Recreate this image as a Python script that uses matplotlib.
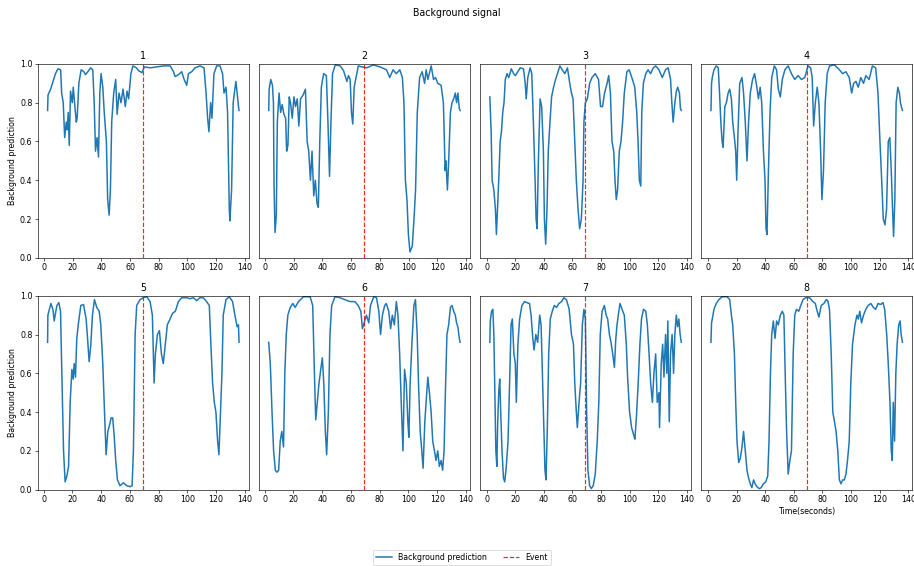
import matplotlib
matplotlib.use('Agg')
import matplotlib.pyplot as plt

# values, one pair of lists per panel
t1 = [2.5, 2.8, 4.6, 8, 9.7, 11.6, 12.3, 13.4, 14.4, 15.5, 16.2, 16.9, 17.6, 18.5, 19.7, 20.4, 21.3, 22.5, 23.1, 24.3,
      25.9, 27.8, 28.9, 30.6, 32.4, 34, 35, 35.9, 37, 38, 38.9, 39.8, 41, 42, 43.5, 44.4, 45.4, 46.3, 47.2, 48.6,
      50, 51, 52.3, 53.7, 55.1, 56.7, 57.9, 59, 60.6, 62, 64.4, 66, 68.3, 70, 74, 78.7, 83.3, 88, 90.3, 91.4,
      93.8, 96, 97.7, 99.5, 100.7, 103, 105.3, 108.8, 111.6, 113, 114.1, 115, 116.2, 117.1, 118.5, 120.4, 122.7,
      124.5, 125.5, 126.9, 128, 129.2, 129.6, 130.8, 131.9, 133.1, 133.8, 134.7, 135.6, 136]
p1 = [0.76, 0.84, 0.87, 0.95, 0.975, 0.97, 0.85, 0.80, 0.62, 0.70, 0.66, 0.75, 0.58, 0.86, 0.80, 0.88, 0.80, 0.70, 0.72, 0.90,
      0.97, 0.96, 0.945, 0.96, 0.98, 0.97, 0.80, 0.55, 0.62, 0.52, 0.85, 0.95, 0.88, 0.75, 0.60, 0.30, 0.22, 0.35, 0.70, 0.85,
      0.92, 0.74, 0.85, 0.80, 0.87, 0.78, 0.86, 0.82, 0.95, 0.99, 0.98, 0.965, 0.955, 0.985, 0.98, 0.985, 0.99, 0.99, 0.96, 0.935,
      0.945, 0.96, 0.92, 0.89, 0.95, 0.96, 0.98, 0.99, 0.98, 0.85, 0.72, 0.65, 0.80, 0.72, 0.95, 0.99, 0.99,
      0.95, 0.85, 0.88, 0.75, 0.25, 0.19, 0.35, 0.80, 0.87, 0.91, 0.85, 0.78, 0.76]

t2 = [2.5, 2.8, 3.9, 5.1, 5.8, 6.2, 6.9, 7.8, 8.5, 9.7, 10.8, 11.9, 13.1, 14.3, 15, 15.9, 16.8, 17.7, 18.9, 20.1,
      21.2, 22.4, 23.5, 24.7, 26.5, 28.1, 29.3, 30.4, 31.6, 32.7, 33.9, 35, 36.2, 37.1, 38.1, 39.2, 40.8, 42.7, 43.8, 44.9,
      45.9, 47, 48.9, 52.4, 54.7, 57, 58.1, 59.3, 60.2, 61.1, 62.1, 63.4, 65, 67.4, 70.8, 75.4, 80, 84.6, 86.9, 89.2,
      91.5, 93.9, 95.7, 96.8, 97.8, 98.9, 99.9, 101, 102.6, 103.8, 104.9, 106.1, 107.7, 109.5, 111.2, 112.3, 113.5,
      115.8, 117.4, 118.8, 120.4, 122.7, 124.3, 125.5, 126.1, 127.1, 128, 129.2, 130.3, 131.5, 132.6, 133.5, 134.4, 135.4, 136]
p2 = [0.76, 0.87, 0.92, 0.89, 0.80, 0.38, 0.13, 0.22, 0.70, 0.85, 0.75, 0.79, 0.74, 0.72, 0.55, 0.58, 0.83, 0.80, 0.72, 0.83,
      0.78, 0.82, 0.68, 0.82, 0.84, 0.87, 0.60, 0.55, 0.40, 0.55, 0.32, 0.40, 0.28, 0.26, 0.60, 0.88, 0.95, 0.94, 0.70, 0.42,
      0.70, 0.95, 0.995, 0.99, 0.965, 0.91, 0.94, 0.92, 0.75, 0.69, 0.88, 0.93, 0.99, 0.985, 0.98, 0.995, 0.985, 0.97, 0.93, 0.97,
      0.95, 0.97, 0.93, 0.80, 0.40, 0.30, 0.12, 0.03, 0.06, 0.20, 0.35, 0.75, 0.93, 0.96, 0.90, 0.97, 0.92,
      0.99, 0.92, 0.93, 0.90, 0.89, 0.80, 0.45, 0.50, 0.35, 0.50, 0.75, 0.80, 0.82, 0.85, 0.80, 0.85, 0.77, 0.76]

t3 = [2.3, 3.2, 3.9, 5.1, 6.2, 6.9, 7.8, 8.5, 9.5, 10.4, 11.3, 12.2, 13.1, 14.3, 15.5, 17.3, 18.9, 20.1, 21.9, 23.5,
      25.8, 27, 27.7, 28.8, 30.4, 31.6, 32.7, 33.9, 34.6, 35.3, 36.2, 37.4, 38.5, 39.7, 40.4, 41.3, 42.2, 43.1, 44.3, 45.4,
      46.8, 48.2, 49.5, 51.2, 52.8, 54.7, 56.5, 58.1, 59.3, 60.4, 61.6, 62.7, 63.9, 65, 66.2, 67.4, 68, 69, 70.4, 72,
      73.6, 75.9, 78.2, 79.6, 81, 82.4, 84.2, 85.3, 86.5, 87.6, 88.8, 89.7, 90.6, 91.5, 92.7, 93.9, 95, 96.2, 98, 99.6,
      101.9, 103.5, 104.9, 105.8, 106.7, 107.7, 108.4, 109.5, 111.2, 112.8, 114.6, 116.4, 118.1, 120.4, 122.7, 125,
      126.8, 128.5, 129.4, 130.3, 131.5, 132.6, 133.5, 134.7, 135.4, 136]
p3 = [0.83, 0.65, 0.40, 0.35, 0.25, 0.12, 0.28, 0.40, 0.60, 0.65, 0.75, 0.80, 0.92, 0.95, 0.93, 0.975, 0.95, 0.94, 0.96, 0.98,
      0.975, 0.90, 0.82, 0.93, 0.98, 0.95, 0.70, 0.40, 0.20, 0.15, 0.50, 0.82, 0.78, 0.55, 0.20, 0.07, 0.25, 0.55, 0.70, 0.83,
      0.88, 0.92, 0.95, 0.99, 0.97, 0.95, 0.98, 0.90, 0.85, 0.82, 0.60, 0.40, 0.25, 0.15, 0.20, 0.40, 0.70, 0.80, 0.82, 0.90,
      0.93, 0.95, 0.92, 0.78, 0.78, 0.85, 0.90, 0.94, 0.85, 0.60, 0.55, 0.40, 0.30, 0.35, 0.55, 0.60, 0.70, 0.85, 0.96, 0.97,
      0.92, 0.88, 0.75, 0.60, 0.40, 0.37, 0.75, 0.90, 0.95, 0.97, 0.95, 0.98, 0.99, 0.97, 0.93, 0.97,
      0.98, 0.92, 0.80, 0.70, 0.80, 0.86, 0.88, 0.85, 0.77, 0.76]

t4 = [2.1, 2.5, 3, 4.2, 5.8, 7.2, 8.1, 9, 9.9, 10.6, 11.8, 12.9, 14.1, 15.2, 16.4, 17.3, 18.5, 19.4, 20.1, 21,
      22.2, 23.8, 24.9, 26.1, 27.3, 28.4, 29.6, 31.2, 32.6, 34.2, 35.3, 36.5, 37.6, 38.8, 39.9, 40.6, 41.3, 42.3, 43.4, 44.6,
      46.4, 48, 49.2, 50.6, 52, 53.8, 56.1, 58.4, 60.7, 63, 65.4, 67.7, 70, 71.8, 72.9, 73.9, 75.1, 76.4, 77.6, 78.8,
      79.7, 80.8, 82, 83.4, 85, 88.5, 91.9, 94.2, 96.5, 98.8, 100.5, 101.9, 103.5, 105.1, 106.9, 108.8, 110.4, 112.7,
      115, 117.3, 118.9, 120.3, 121.5, 122.6, 123.8, 124.9, 126.1, 127.2, 128.2, 129.1, 129.8, 130.7, 131.6, 132.8,
      133.9, 134.6, 136]
p4 = [0.76, 0.90, 0.93, 0.97, 0.99, 0.98, 0.85, 0.70, 0.60, 0.57, 0.78, 0.80, 0.85, 0.87, 0.82, 0.70, 0.62, 0.55, 0.40, 0.65,
      0.90, 0.93, 0.85, 0.70, 0.50, 0.70, 0.85, 0.92, 0.95, 0.88, 0.82, 0.88, 0.80, 0.55, 0.40, 0.15, 0.12, 0.45, 0.75, 0.93,
      0.99, 0.97, 0.87, 0.83, 0.92, 0.97, 0.99, 0.95, 0.92, 0.94, 0.92, 0.93, 0.99, 0.98, 0.93, 0.68, 0.80, 0.88, 0.80, 0.55,
      0.30, 0.45, 0.80, 0.95, 0.99, 0.995, 0.97, 0.95, 0.96, 0.93, 0.85, 0.90, 0.91, 0.88, 0.93, 0.90, 0.94, 0.92,
      0.99, 0.98, 0.85, 0.60, 0.40, 0.20, 0.17, 0.25, 0.60, 0.62, 0.45, 0.25, 0.11, 0.30, 0.80, 0.88,
      0.85, 0.80, 0.76]

t5 = [2.8, 3.0, 3.7, 5.1, 6.5, 7.4, 8.3, 9.3, 10.6, 11.8, 12.7, 13.9, 15, 16.2, 17.4, 18.5, 19.7, 20.6, 21.3, 22.2,
      23.1, 24.3, 25.9, 27.8, 29.6, 30.6, 31.7, 32.9, 34, 35.4, 37, 38.7, 39.8, 41.2, 42.4, 43.5, 44.7, 45.8, 47, 48.1,
      49.1, 50.2, 51.4, 53.2, 55.6, 57.9, 60.2, 61.6, 62.5, 63.7, 64.8, 67.1, 69.4, 71.8, 74.1, 75.7, 76.9, 77.8, 79.2, 80.6,
      82, 83.3, 84.7, 86.1, 88, 89.8, 91.7, 93.8, 96.1, 99.5, 101.9, 104.2, 106.5, 108.8, 111.1, 113.4, 115.3, 116.4,
      117.6, 118.8, 119.9, 121.1, 122, 123.1, 124.1, 125, 126.9, 129.2, 131.5, 133.1, 134.7, 135.6, 136]
p5 = [0.76, 0.90, 0.92, 0.96, 0.93, 0.87, 0.91, 0.95, 0.965, 0.92, 0.60, 0.20, 0.04, 0.07, 0.12, 0.45, 0.62, 0.57, 0.65, 0.58,
      0.78, 0.86, 0.95, 0.955, 0.88, 0.78, 0.66, 0.75, 0.90, 0.98, 0.94, 0.92, 0.85, 0.65, 0.40, 0.18, 0.30, 0.33, 0.37, 0.37,
      0.28, 0.15, 0.05, 0.02, 0.035, 0.02, 0.015, 0.02, 0.20, 0.80, 0.95, 0.98, 0.99, 0.995, 0.97, 0.90, 0.55, 0.70, 0.80, 0.82,
      0.70, 0.65, 0.75, 0.85, 0.88, 0.91, 0.92, 0.97, 0.99, 0.99, 0.985, 0.99, 0.975, 0.99, 0.99, 0.97, 0.95, 0.75,
      0.55, 0.45, 0.40, 0.25, 0.18, 0.40, 0.60, 0.90, 0.98, 0.995, 0.97, 0.90, 0.84, 0.85, 0.76]

t6 = [2.8, 3.9, 5.1, 6.2, 7.4, 8.5, 9.7, 10.8, 11.9, 13.1, 14, 15, 16.1, 17.8, 19.6, 21.2, 23.5, 27, 31.6, 33.4,
      34.6, 35.5, 36.6, 37.8, 39, 40.1, 41.1, 42.2, 43.1, 44.3, 45.4, 46.6, 48.9, 52.4, 55.8, 59.3, 62.7, 65, 66.9, 68,
      69.2, 70.8, 72.4, 73.6, 75.9, 77.8, 79.4, 80.6, 81.9, 83.5, 84.6, 86.3, 87.6, 88.8, 90.2, 91.6, 92.7, 93.9, 95, 96.2,
      97.3, 98.5, 99.6, 100.3, 101.2, 102.4, 103.8, 104.9, 106.1, 107, 108.2, 109.3, 110.2, 111.4, 112.3, 113.5, 114.6,
      115.8, 116.9, 118.1, 119.2, 120.4, 121.5, 122.7, 123.8, 124.8, 125.7, 126.8, 128, 129.2, 130.3, 131.5, 132.6,
      133.5, 134.4, 135.4, 136]
p6 = [0.76, 0.65, 0.40, 0.20, 0.10, 0.09, 0.10, 0.25, 0.30, 0.22, 0.60, 0.80, 0.90, 0.94, 0.96, 0.94, 0.97, 0.995, 0.995, 0.95,
      0.60, 0.36, 0.45, 0.55, 0.62, 0.68, 0.55, 0.30, 0.18, 0.40, 0.80, 0.95, 0.995, 0.99, 0.98, 0.97, 0.97, 0.95, 0.92, 0.83,
      0.86, 0.90, 0.86, 0.95, 0.995, 0.99, 0.92, 0.80, 0.90, 0.95, 0.96, 0.92, 0.83, 0.90, 0.85, 0.97, 0.90, 0.70, 0.45, 0.20,
      0.62, 0.55, 0.35, 0.27, 0.55, 0.75, 0.95, 0.98, 0.80, 0.55, 0.30, 0.20, 0.11, 0.35, 0.45, 0.58, 0.50,
      0.40, 0.25, 0.20, 0.15, 0.20, 0.12, 0.15, 0.10, 0.20, 0.50, 0.80, 0.85, 0.94, 0.95, 0.92, 0.90,
      0.86, 0.84, 0.78, 0.76]

t7 = [2.3, 2.6, 3.5, 4.4, 5.1, 5.8, 6.5, 7.2, 7.8, 8.5, 9.2, 9.9, 10.8, 11.8, 12.7, 13.8, 15, 16.1, 17.1, 18,
      19.1, 20.1, 20.8, 21.9, 23.1, 24.7, 26.5, 28.1, 30, 31.1, 32.3, 33.2, 34.4, 35.7, 37.1, 38.1, 39, 39.9, 40.8, 41.5,
      42.4, 43.4, 44.5, 45.9, 47.3, 48.9, 50.5, 52.4, 54, 55.8, 57.7, 59.3, 60.7, 61.6, 62.7, 63.4, 64.6, 65.7, 66.9, 68,
      69, 69.9, 70.8, 72, 73.1, 74.5, 75.9, 77.3, 78.4, 79.4, 80.7, 82.3, 83.5, 84.6, 85.8, 86.9, 88.1, 89.3, 90.2, 91.1,
      92, 93.2, 94.6, 96.2, 97.6, 98.5, 99.9, 101.3, 102.8, 103.6, 104.7, 105.9, 107.1, 108.2, 109.6, 111.2, 112.3,
      113.5, 114.6, 115.8, 116.9, 118.1, 119.2, 120.4, 120.8, 122, 123, 123.9, 125, 125.9, 126.6, 127.6, 128.5, 129.6,
      130.6, 131.5, 132.5, 133.4, 134.3, 135.2, 136]
p7 = [0.76, 0.87, 0.92, 0.93, 0.80, 0.50, 0.20, 0.12, 0.35, 0.50, 0.57, 0.40, 0.20, 0.06, 0.04, 0.12, 0.25, 0.55, 0.85, 0.88,
      0.70, 0.65, 0.45, 0.75, 0.88, 0.95, 0.97, 0.965, 0.96, 0.90, 0.78, 0.72, 0.80, 0.76, 0.90, 0.85, 0.60, 0.35, 0.10, 0.05,
      0.30, 0.70, 0.88, 0.92, 0.95, 0.94, 0.96, 0.97, 0.99, 0.98, 0.93, 0.80, 0.75, 0.55, 0.40, 0.32, 0.45, 0.55, 0.85, 0.93,
      0.88, 0.40, 0.10, 0.02, 0.005, 0.02, 0.08, 0.25, 0.45, 0.80, 0.92, 0.95, 0.90, 0.88, 0.80, 0.76, 0.70, 0.63, 0.77, 0.85,
      0.90, 0.96, 0.93, 0.90, 0.75, 0.58, 0.40, 0.32, 0.28, 0.26, 0.38, 0.55, 0.75, 0.88, 0.93, 0.92, 0.85,
      0.70, 0.55, 0.45, 0.60, 0.70, 0.45, 0.50, 0.32, 0.65, 0.75, 0.58, 0.80, 0.60, 0.87, 0.35, 0.70, 0.80,
      0.60, 0.80, 0.90, 0.84, 0.88, 0.80, 0.76]

t8 = [2.1, 2.5, 3, 4.2, 5.8, 7.6, 9.9, 13.4, 15.2, 16.4, 17.3, 18.5, 19.4, 20.3, 21.5, 22.6, 23.8, 24.9, 26.1, 27.3,
      28.4, 29.6, 30.7, 31.9, 33, 34.2, 35.8, 37.2, 38.8, 40.4, 41.8, 42.7, 43.7, 44.6, 45.7, 46.9, 48, 49.2, 50.6, 52,
      53.1, 54, 55, 56.1, 57.3, 58.4, 59.6, 60.7, 61.9, 63.5, 64.9, 66.5, 68.4, 71.1, 73.4, 75.1, 76.4, 77.6, 79.2, 81.1,
      82.7, 83.8, 85, 86.2, 87.3, 88.5, 89.6, 90.8, 91.9, 93.1, 94.2, 95.4, 96.5, 97.6, 98.8, 99.9, 101.1, 102.8, 104.2,
      105.1, 106.2, 107.4, 108.8, 110.4, 112, 113.9, 115.7, 117.3, 118.9, 120.8, 122.4, 123.6, 125, 126.1, 127.3, 128.2,
      128.9, 129.6, 130.5, 131.4, 132.3, 133.4, 134.4, 135.1, 136]
p8 = [0.76, 0.86, 0.88, 0.93, 0.96, 0.98, 0.995, 0.995, 0.98, 0.90, 0.85, 0.70, 0.45, 0.25, 0.14, 0.16, 0.22, 0.30, 0.20, 0.10,
      0.06, 0.03, 0.01, 0.05, 0.03, 0.015, 0.005, 0.01, 0.03, 0.04, 0.07, 0.25, 0.60, 0.80, 0.87, 0.78, 0.87, 0.85, 0.90, 0.92,
      0.90, 0.60, 0.30, 0.08, 0.15, 0.20, 0.70, 0.90, 0.93, 0.92, 0.95, 0.98, 0.99, 0.99, 0.97, 0.96, 0.92, 0.89, 0.95, 0.96,
      0.98, 0.975, 0.93, 0.70, 0.40, 0.35, 0.30, 0.20, 0.05, 0.03, 0.05, 0.05, 0.08, 0.15, 0.25, 0.55, 0.75, 0.85, 0.90,
      0.88, 0.92, 0.86, 0.90, 0.93, 0.95, 0.96, 0.94, 0.93, 0.96, 0.955, 0.965, 0.93, 0.80, 0.65, 0.45, 0.20,
      0.15, 0.45, 0.25, 0.60, 0.75, 0.85, 0.87, 0.80, 0.76]

times = [t1, t2, t3, t4, t5, t6, t7, t8]
preds = [p1, p2, p3, p4, p5, p6, p7, p8]
event_time = 69

fig, axes = plt.subplots(2, 4, sharey=True, figsize=(16, 566 / 57.125), dpi=57.125)
fig.subplots_adjust(left=0.0416, right=0.9978, top=0.887, bottom=0.135, wspace=0.05, hspace=0.196)

for i, ax in enumerate(axes.flat):
    ax.plot(times[i], preds[i], color='C0', lw=1.9, label='Background prediction')
    ax.axvline(event_time, color='r', linestyle='--', alpha=0.85, label='Event')
    ax.set_title(str(i + 1))
    ax.set_ylim(0, 1)
    ax.set_xticks(range(0, 141, 20))
    if i % 4:
        # no y ticks except in the first column
        ax.tick_params(axis='y', left=False)

axes[0, 0].set_ylabel('Background prediction')
axes[1, 0].set_ylabel('Background prediction')
axes[1, 3].set_xlabel('Time(seconds)')

handles, labels = axes[0, 0].get_legend_handles_labels()
fig.legend(handles, labels, loc='lower center', ncol=2, bbox_to_anchor=(0.505, -0.005))
fig.suptitle('Background signal', y=0.985)

fig.savefig('out.png', dpi=57.125)
